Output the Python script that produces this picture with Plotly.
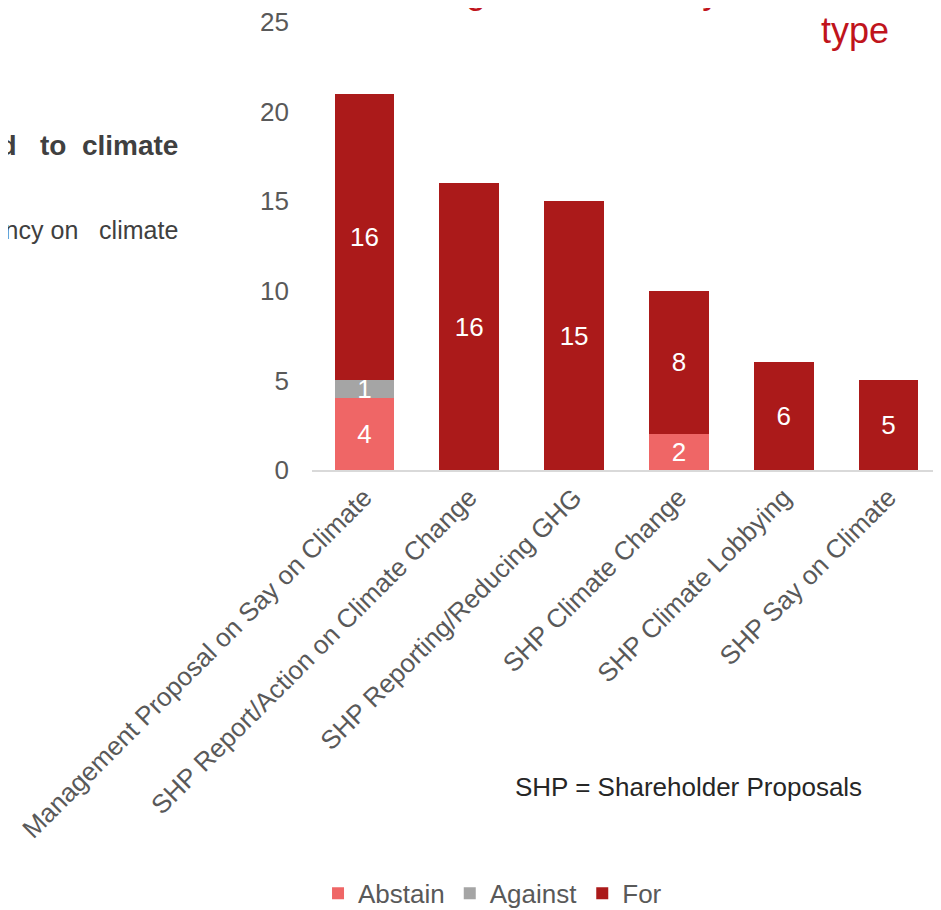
import plotly.graph_objects as go

categories = [
    "Management Proposal on Say on Climate",
    "SHP Report/Action on Climate Change",
    "SHP Reporting/Reducing GHG",
    "SHP Climate Change",
    "SHP Climate Lobbying",
    "SHP Say on Climate",
]
abstain = [4, 0, 0, 2, 0, 0]
against = [1, 0, 0, 0, 0, 0]
vote_for = [16, 16, 15, 8, 6, 5]

COLORS = {"Abstain": "#EF6666", "Against": "#A5A5A5", "For": "#AB1A1A"}
FONT = "Liberation Sans, Arial, sans-serif"
GREY = "#595959"
NB = "\u00a0"


def labels(vals):
    return [str(v) if v else "" for v in vals]


fig = go.Figure()
for name, vals in (("Abstain", abstain), ("Against", against), ("For", vote_for)):
    fig.add_trace(go.Bar(
        x=categories, y=vals, name=name,
        marker=dict(color=COLORS[name], line=dict(width=0)),
        text=labels(vals), textposition="inside", insidetextanchor="middle",
        textangle=0, constraintext="none",
        textfont=dict(color="white", size=26, family=FONT),
    ))

# page body has an 8px margin, so the figure is sized/offset to match the slide crop
fig.update_layout(
    width=933, height=902,
    barmode="stack", bargap=0.43,
    paper_bgcolor="white", plot_bgcolor="white",
    margin=dict(l=304, r=0, t=14, b=440, autoexpand=False),
    font=dict(family=FONT, color=GREY),
    uniformtext=dict(minsize=26, mode="show"),
    showlegend=True,
    legend=dict(orientation="h", x=0.287, xanchor="center", y=-0.945, yanchor="middle",
                font=dict(size=26, color=GREY), itemwidth=30, traceorder="normal"),
)
fig.update_yaxes(range=[0, 25], dtick=5, showgrid=False, zeroline=False, showline=False,
                 tickfont=dict(size=26, color=GREY), ticklabelstandoff=22,
                 ticklabeloverflow="allow")
fig.update_xaxes(showline=True, linecolor="#D9D9D9", linewidth=2, tickangle=-45,
                 tickfont=dict(size=26, color=GREY), ticks="", automargin=False)

# title (cut off at top of the slide crop)
fig.add_annotation(xref="paper", yref="paper", x=0.652, y=1.02, xanchor="right", yanchor="bottom",
                   text="Voting breakdown by", showarrow=False,
                   font=dict(size=36, color="#C0141C"))
fig.add_annotation(xref="paper", yref="paper", x=0.863, y=0.982, xanchor="center", yanchor="middle",
                   text="type", showarrow=False, font=dict(size=36, color="#C0141C"))

# side text from the slide, clipped at the left edge
fig.add_annotation(xref="paper", yref="paper", x=-0.21, y=0.725, xanchor="right", yanchor="middle",
                   text="<b>Shareholder proposals related" + NB * 3 + "to" + NB * 2 + "climate</b>",
                   showarrow=False, font=dict(size=28, color="#404040"))
fig.add_annotation(xref="paper", yref="paper", x=-0.21, y=0.536, xanchor="right", yanchor="middle",
                   text="Asking for more transparency on" + NB * 3 + "climate",
                   showarrow=False, font=dict(size=25, color="#404040"))

fig.add_annotation(xref="paper", yref="paper", x=0.599, y=-0.708, xanchor="center", yanchor="middle",
                   text="SHP = Shareholder Proposals", showarrow=False,
                   font=dict(size=26, color="#262626"))

fig.write_html("out.html")
